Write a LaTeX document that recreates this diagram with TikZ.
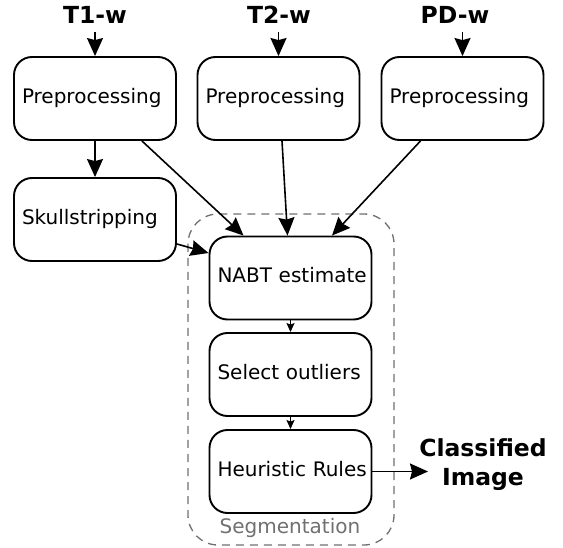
\documentclass[tikz,border=0pt]{standalone}
\usepackage{fontspec}
\setmainfont{DejaVu Sans}
\usetikzlibrary{arrows.meta}
\definecolor{seggray}{HTML}{707070}
\tikzset{
  stepbox/.style={draw=black, line width=1.9pt, rounded corners=18pt,
    minimum width=162pt, minimum height=83pt, text width=146pt, align=left,
    inner xsep=8pt, font=\fontsize{20}{24}\selectfont,
    text height=14.6pt, text depth=4.7pt},
  inlabel/.style={font=\bfseries\fontsize{23.5}{28}\selectfont, inner sep=0pt, anchor=base},
  bigarrow/.style={line width=1.6pt, -{Stealth[length=18pt,width=16pt,inset=2pt]}},
  smallarrow/.style={line width=1.3pt, -{Stealth[length=9pt,width=8pt,inset=1.5pt]}},
  segbox/.style={draw=seggray, line width=1.3pt, dash pattern=on 8pt off 6pt, rounded corners=30pt}
}
\begin{document}
\begin{tikzpicture}[x=1pt,y=-1pt]
\useasboundingbox (0,0) rectangle (563,548);
% segmentation group
\draw[segbox] (188,214) rectangle (394,545);
\node[text=seggray, font=\fontsize{20}{24}\selectfont, anchor=base, inner sep=0pt] (seglabel) at (290,533) {Segmentation};
% input labels
\node[inlabel] (t1) at (95,24) {T1-w};
\node[inlabel] (t2) at (279,24) {T2-w};
\node[inlabel] (pd) at (455,24) {PD-w};
% boxes
\node[stepbox] (p1) at (95,98.5) {\mbox{Preprocessing}};
\node[stepbox] (p2) at (278.5,98.5) {\mbox{Preprocessing}};
\node[stepbox] (p3) at (462.5,98.5) {\mbox{Preprocessing}};
\node[stepbox] (skull) at (95,219.5) {\mbox{Skullstripping}};
\node[stepbox] (nabt) at (290.5,278) {\mbox{NABT estimate}};
\node[stepbox] (sel) at (290.5,374.5) {\mbox{Select outliers}};
\node[stepbox] (heur) at (290.5,471.5) {\mbox{Heuristic Rules}};
% output
\node[font=\bfseries\fontsize{23.5}{29}\selectfont, align=center, inner sep=0pt] (cls) at (483,465) {Classified\\Image};
\coordinate (clsin) at (428,471.5);
% input arrows
\draw[bigarrow] (p1.north |- t1.base) ++(0,8) -- (p1.north);
\draw[bigarrow] (p2.north |- t2.base) ++(0,8) -- (p2.north);
\draw[bigarrow] (p3.north |- pd.base) ++(0,8) -- (p3.north);
% connectors
\draw[bigarrow] (p1.south) -- (skull.north);
\draw[bigarrow] ([xshift=-35pt]p1.south east) -- ([xshift=-47pt]nabt.north);
\draw[bigarrow] ([xshift=3.5pt]p2.south) -- ([xshift=-3pt]nabt.north);
\draw[bigarrow] ([xshift=-42pt]p3.south) -- ([xshift=41.5pt]nabt.north);
\draw[bigarrow] ([yshift=-24.5pt]skull.east) -- ([yshift=25pt]nabt.west);
\draw[smallarrow] (nabt.south) -- (sel.north);
\draw[smallarrow] (sel.south) -- (heur.north);
\draw[bigarrow] (heur.east) -- (clsin);
\end{tikzpicture}
\end{document}
